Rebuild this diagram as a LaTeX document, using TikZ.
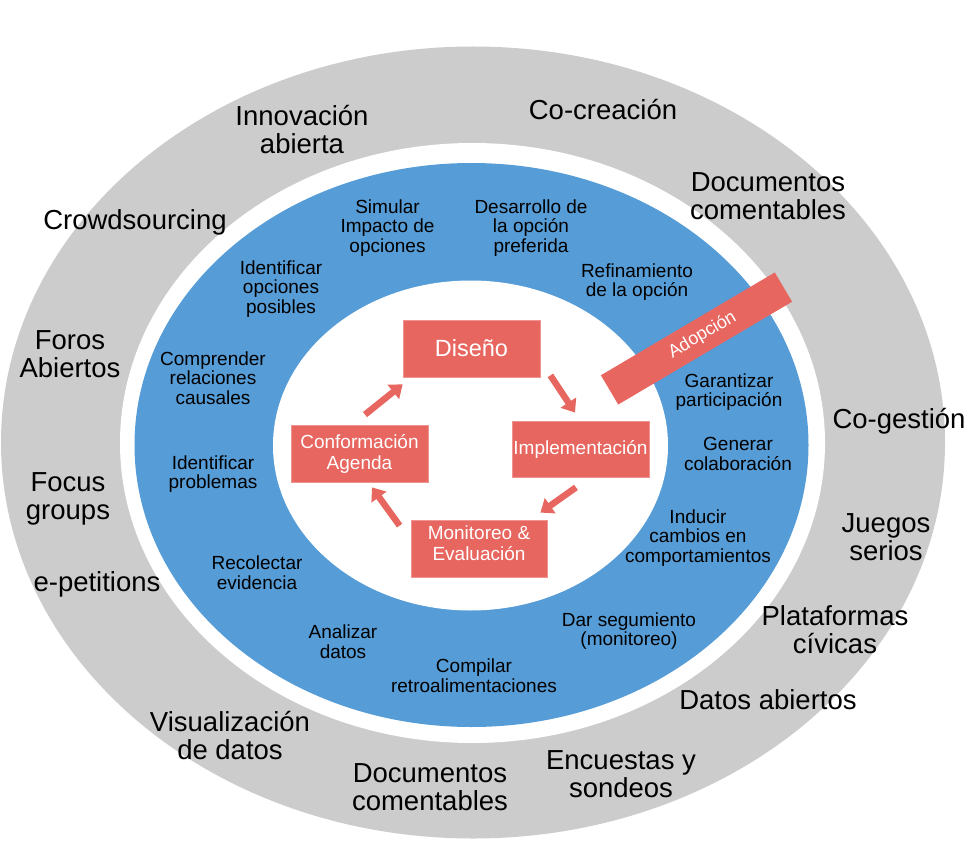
\documentclass[tikz,border=0pt]{standalone}
\usepackage{fontspec}
\setmainfont{Liberation Sans}
\usetikzlibrary{arrows.meta}
\definecolor{ringgray}{RGB}{204,204,204}
\definecolor{ringblue}{RGB}{86,156,214}
\definecolor{coral}{RGB}{232,102,96}
\begin{document}
\begin{tikzpicture}[x=1pt,y=-1pt,
  biglbl/.style={font=\fontsize{27.5}{28}\selectfont, align=center, inner sep=0pt, text=black},
  smalllbl/.style={font=\fontsize{19}{19.6}\selectfont, align=center, inner sep=0pt, text=black},
  stagebox/.style={rectangle, fill=coral, draw=coral!70!white, line width=0.8pt, text=white, align=center, inner sep=0pt, font=\fontsize{19}{21}\selectfont},
  stagetext/.style={text=white, align=center, inner sep=0pt, font=\fontsize{19}{21}\selectfont},
  cyclearrow/.style={draw=coral, line width=6.5pt, -{Triangle[width=18pt,length=12pt]}}
]
\useasboundingbox (0,0) rectangle (972,864);
% rings
\fill[ringgray] (473,442.5) ellipse [x radius=472, y radius=396];
\fill[white] (472.5,443) ellipse [x radius=352.5, y radius=300];
\fill[ringblue] (471.5,445) ellipse [x radius=337, y radius=282];
\fill[white] (470.5,445.5) ellipse [x radius=197.5, y radius=165];

% outer ring labels
\node[biglbl] (innov) at (302,130) {Innovación\\abierta};
\node[biglbl] (cocrea) at (603,110) {Co-creación};
\node[biglbl] (crowd) at (135,222) {Crowdsourcing};
\node[biglbl] (doctr) at (768,196) {Documentos\\comentables};
\node[biglbl] (foros) at (70,354) {Foros\\Abiertos};
\node[biglbl] (coges) at (899,421) {Co-gestión};
\node[biglbl] (focus) at (68,499) {Focus\\groups};
\node[biglbl] (juegos) at (886,537) {Juegos\\serios};
\node[biglbl] (epet) at (97,584) {e-petitions};
\node[biglbl] (plata) at (835,630) {Plataformas\\cívicas};
\node[biglbl] (datos) at (768,700) {Datos abiertos};
\node[biglbl] (visual) at (230,736) {Visualización\\de datos};
\node[biglbl] (docbt) at (430,787) {Documentos\\comentables};
\node[biglbl] (encues) at (621,774) {Encuestas y\\sondeos};

% blue ring labels
\node[smalllbl] (simular) at (387.5,228) {Simular\\Impacto de\\opciones};
\node[smalllbl] (desarr) at (531,228) {Desarrollo de\\la opción\\preferida};
\node[smalllbl] (identop) at (281,289) {Identificar\\opciones\\posibles};
\node[smalllbl] (refin) at (637,282) {Refinamiento\\de la opción};
\node[smalllbl] (compr) at (213,378) {Comprender\\relaciones\\causales};
\node[smalllbl] (garant) at (729,392) {Garantizar\\participación};
\node[smalllbl] (generar) at (738,454) {Generar\\colaboración};
\node[smalllbl] (identpr) at (213,474) {Identificar\\problemas};
\node[smalllbl] (inducir) at (698,538) {Inducir\\cambios en\\comportamientos};
\node[smalllbl] (recol) at (257,573) {Recolectar\\evidencia};
\node[smalllbl] (analiz) at (343,642) {Analizar\\datos};
\node[smalllbl] (darseg) at (629,631) {Dar segumiento\\(monitoreo)};
\node[smalllbl] (compil) at (474,676) {Compilar\\retroalimentaciones};

% adoption band
\node[rectangle, fill=coral, minimum width=202pt, minimum height=34pt, rotate=30.6, inner sep=0pt,
      text=white, font=\fontsize{18}{20}\selectfont] (adop) at (696.5,338.5) {\hspace*{14pt}Adopción};

% stage boxes
\node[stagebox, minimum width=137pt, minimum height=57pt, font=\fontsize{23.5}{25}\selectfont] (dis) at (471.5,348.5) {Diseño};
\node[stagebox, minimum width=137pt, minimum height=56pt] (impl) at (580.5,449) {Implementación};
\node[stagebox, minimum width=137pt, minimum height=57pt] (conf) at (359.5,453.5) {Conformación\\Agenda};
\node[stagebox, minimum width=136pt, minimum height=57pt] (mon) at (479,548.5) {};
\node[stagetext] (montxt) at ([yshift=5pt]mon.center) {Monitoreo \&\\Evaluación};

% cycle arrows
\draw[cyclearrow] ([xshift=5.5pt,yshift=10pt]conf.north) -- ([yshift=-7pt]dis.south west);
\draw[cyclearrow] ([xshift=10pt,yshift=2pt]dis.south east) -- ([xshift=-5.5pt,yshift=8pt]impl.north);
\draw[cyclearrow] ([xshift=-4.5pt,yshift=-10pt]impl.south) -- ([xshift=-7pt,yshift=7pt]mon.north east);
\draw[cyclearrow] ([xshift=-11pt,yshift=-6pt]mon.north west) -- ([xshift=12.5pt,yshift=-5pt]conf.south);
\end{tikzpicture}
\end{document}
